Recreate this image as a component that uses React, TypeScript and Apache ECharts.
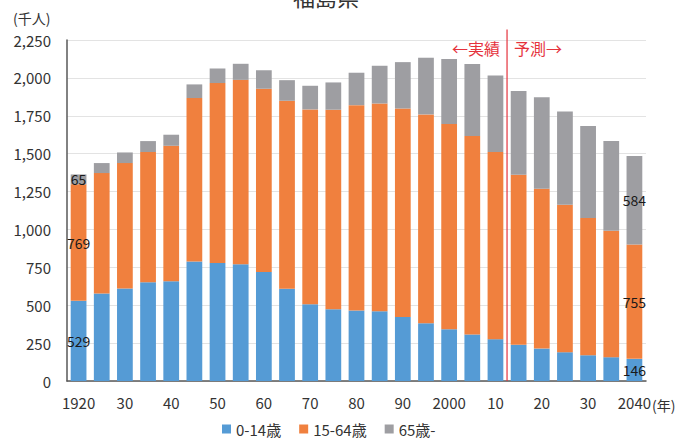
import React, { useEffect, useRef } from "react";
import * as echarts from "echarts";

// Fukushima prefecture population by age group (thousands), 1920–2040
const years = [
  "1920", "1925", "1930", "1935", "1940", "1945", "1950", "1955", "1960", "1965",
  "1970", "1975", "1980", "1985", "1990", "1995", "2000", "2005", "2010", "2015",
  "2020", "2025", "2030", "2035", "2040",
];
const tickLabels = [
  "1920", "", "30", "", "40", "", "50", "", "60", "", "70", "", "80", "", "90", "",
  "2000", "", "10", "", "20", "", "30", "", "2040",
];
const age0to14 = [
  529, 577, 610, 651, 658, 788, 779, 770, 719, 608, 506, 473, 465, 460, 423, 381,
  342, 307, 276, 239, 214, 190, 170, 157, 146,
];
const age15to64 = [
  769, 795, 828, 860, 894, 1079, 1187, 1217, 1209, 1241, 1286, 1317, 1355, 1371,
  1375, 1378, 1353, 1309, 1235, 1122, 1055, 973, 906, 835, 755,
];
const age65plus = [
  65, 66, 70, 72, 73, 90, 96, 106, 123, 136, 156, 180, 214, 249, 306, 374, 429,
  475, 505, 552, 604, 616, 606, 591, 584,
];
const seriesNames = ["0-14歳", "15-64歳", "65歳-"];
const seriesColors = ["#559BD5", "#F0803E", "#9E9EA2"];
const labeledIdx = [0, 24];

const FONT = "'Noto Sans CJK JP', 'Noto Sans', sans-serif";
const RED = "#E5323C";

export default function App() {
  const ref = useRef<HTMLDivElement>(null);

  useEffect(() => {
    if (!ref.current) return;
    const chart = echarts.init(ref.current, undefined, { renderer: "svg" });

    const mkData = (arr: number[]) =>
      arr.map((v, i) =>
        labeledIdx.includes(i)
          ? {
              value: v,
              label: {
                show: true,
                position: "inside",
                color: "#1a1a1a",
                fontSize: 14,
                fontFamily: FONT,
              },
            }
          : v
      );

    const all = [age0to14, age15to64, age65plus];

    chart.setOption({
      animation: false,
      textStyle: { fontFamily: FONT },
      grid: { left: 67, right: 33, top: 40, bottom: 60, containLabel: false },
      legend: {
        left: 222,
        top: 420,
        padding: 0,
        icon: "rect",
        itemWidth: 9,
        itemHeight: 9,
        itemGap: 18,
        textStyle: { fontSize: 15, color: "#333", fontFamily: FONT, lineHeight: 18 },
        data: seriesNames,
      },
      xAxis: {
        type: "category",
        data: years,
        axisLine: { lineStyle: { color: "#595959", width: 1.5 } },
        axisTick: { show: false },
        axisLabel: {
          interval: 0,
          margin: 14,
          fontSize: 15,
          color: "#333",
          fontFamily: FONT,
          formatter: (_v: string, i: number) => tickLabels[i],
        },
      },
      yAxis: {
        type: "value",
        min: 0,
        max: 2250,
        interval: 250,
        axisLine: { show: true, lineStyle: { color: "#595959", width: 1.5 } },
        axisTick: { show: false },
        splitLine: { lineStyle: { color: "#E3E3E3" } },
        axisLabel: {
          fontSize: 15,
          color: "#333",
          margin: 16,
          fontFamily: FONT,
          formatter: (v: number) => v.toLocaleString("en-US"),
        },
      },
      series: all.map((arr, k) => ({
        name: seriesNames[k],
        type: "bar",
        stack: "pop",
        barCategoryGap: "32%",
        itemStyle: { color: seriesColors[k] },
        data: mkData(arr),
      })),
    });

    // divider between recorded and projected figures, placed via the axes
    const x2010 = chart.convertToPixel({ xAxisIndex: 0 }, "2010") as number;
    const x2015 = chart.convertToPixel({ xAxisIndex: 0 }, "2015") as number;
    const lineX = (x2010 + x2015) / 2;
    const yTop = chart.convertToPixel({ yAxisIndex: 0 }, 2320) as number;
    const yBottom = chart.convertToPixel({ yAxisIndex: 0 }, 0) as number;
    const yText = chart.convertToPixel({ yAxisIndex: 0 }, 2200) as number;

    chart.setOption({
      graphic: [
        {
          type: "text",
          x: 326,
          y: -15,
          style: {
            text: "福島県",
            fontSize: 22,
            fill: "#333",
            fontFamily: FONT,
            textAlign: "center",
          },
          z: 10,
        },
        {
          type: "text",
          x: 13,
          y: 18,
          style: {
            text: "(千人)",
            fontSize: 14,
            fill: "#333",
            fontFamily: FONT,
            textVerticalAlign: "middle",
          },
        },
        {
          type: "text",
          x: 652,
          y: 405,
          style: {
            text: "(年)",
            fontSize: 14,
            fill: "#333",
            fontFamily: FONT,
            textVerticalAlign: "middle",
          },
        },
        {
          type: "line",
          shape: { x1: lineX, y1: yTop, x2: lineX, y2: yBottom },
          style: { stroke: RED, lineWidth: 1.2 },
          z: 10,
        },
        {
          type: "text",
          x: lineX - 7,
          y: yText,
          style: {
            text: "←実績",
            fontSize: 16,
            fill: RED,
            fontFamily: FONT,
            textAlign: "right",
            textVerticalAlign: "middle",
          },
          z: 10,
        },
        {
          type: "text",
          x: lineX + 7,
          y: yText,
          style: {
            text: "予測→",
            fontSize: 16,
            fill: RED,
            fontFamily: FONT,
            textAlign: "left",
            textVerticalAlign: "middle",
          },
          z: 10,
        },
      ],
    });

    return () => chart.dispose();
  }, []);

  return (
    <div
      ref={ref}
      style={{ position: "absolute", left: 0, top: 0, width: 679, height: 441, background: "#fff" }}
    />
  );
}
